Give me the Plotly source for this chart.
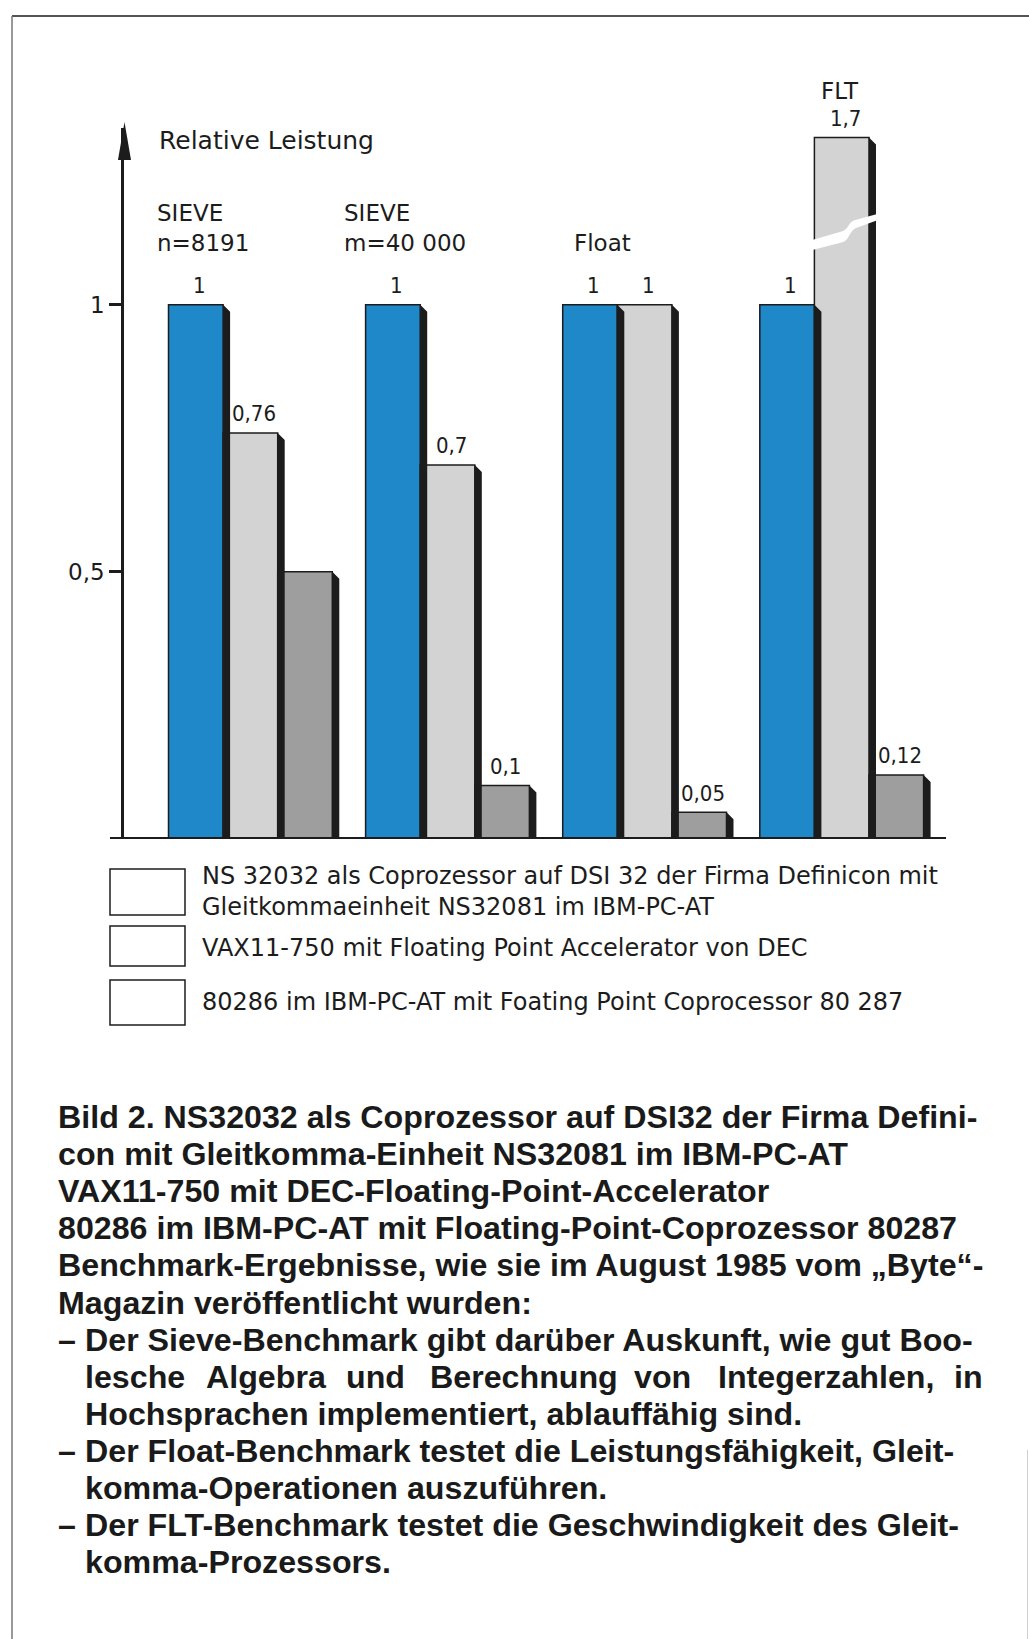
import plotly.graph_objects as go

# ---------------- data ----------------
benchmarks = ["SIEVE n=8191", "SIEVE m=40 000", "Float", "FLT"]
benchmark_headers = [["SIEVE", "n=8191"], ["SIEVE", "m=40 000"], ["Float"], ["FLT"]]

ns32032_dsi32 = [1, 1, 1, 1]
vax11_750 = [0.76, 0.7, 1, 1.7]
i80286_ibm_at = [0.5, 0.1, 0.05, 0.12]

show_label_ns = [True, True, True, True]
show_label_vax = [True, True, True, True]
show_label_286 = [False, True, True, True]

y_tickvals = [0.5, 1]
y_ticktext = ["0,5", "1"]
y_title = "Relative Leistung"

legend_texts = [
    ["NS 32032 als Coprozessor auf DSI 32 der Firma Definicon mit",
     "Gleitkommaeinheit NS32081 im IBM-PC-AT"],
    ["VAX11-750 mit Floating Point Accelerator von DEC"],
    ["80286 im IBM-PC-AT mit Foating Point Coprocessor 80 287"],
]

caption_lines = [
    "Bild 2. NS32032 als Coprozessor auf DSI32 der Firma Defini-",
    "con mit Gleitkomma-Einheit NS32081 im IBM-PC-AT",
    "VAX11-750 mit DEC-Floating-Point-Accelerator",
    "80286 im IBM-PC-AT mit Floating-Point-Coprozessor 80287",
    "Benchmark-Ergebnisse, wie sie im August 1985 vom \u201eByte\u201c-",
    "Magazin ver\u00f6ffentlicht wurden:",
]
bullet_lines = [
    ("\u2013", "Der Sieve-Benchmark gibt dar\u00fcber Auskunft, wie gut Boo-"),
    ("", "JUSTIFY"),
    ("", "Hochsprachen implementiert, ablauff\u00e4hig sind."),
    ("\u2013", "Der Float-Benchmark testet die Leistungsf\u00e4higkeit, Gleit-"),
    ("", "komma-Operationen auszuf\u00fchren."),
    ("\u2013", "Der FLT-Benchmark testet die Geschwindigkeit des Gleit-"),
    ("", "komma-Prozessors."),
]
justified_words = ["lesche", "Algebra", "und", "Berechnung", "von", "Integerzahlen,", "in"]

BREAK_TOP = 1.313   # displayed height of the broken (off-scale) bar

# ---------------- geometry / style ----------------
W, H = 1029, 1639
ML, MR, MT, MB = 124, 83, 128, 800
PW, PH = W - ML - MR, H - MT - MB
X_RANGE = [-0.6418, 3.5287]
Y_RANGE = [0, PH / 534.3]

BLUE = "#1f88c9"
LGRAY = "#d3d3d3"
DGRAY = "#9e9e9e"
INK = "#1c1c1c"
TECH_FONT = "DejaVu Sans, sans-serif"
TECH_NARROW = "DejaVu Sans Condensed, DejaVu Sans, sans-serif"
CAP_FONT = "Liberation Sans, Arial, sans-serif"

BW = 0.277
OFFSETS = [-0.416, -0.139, 0.138]
SH_X = 7 / (PW / (X_RANGE[1] - X_RANGE[0]))
SH_Y = 7 / 534.3


def px_x(xd):
    return ML + (xd - X_RANGE[0]) / (X_RANGE[1] - X_RANGE[0]) * PW


def px_y(yd):
    return MT + PH - (yd - Y_RANGE[0]) / (Y_RANGE[1] - Y_RANGE[0]) * PH


def pap_x(px):
    return (px - ML) / PW


def pap_y(py):
    return (MT + PH - py) / PH


def fmt(v):
    return f"{v:g}".replace(".", ",")


series = [
    ("NS 32032 / DSI32", ns32032_dsi32, show_label_ns, BLUE, OFFSETS[0]),
    ("VAX11-750", vax11_750, show_label_vax, LGRAY, OFFSETS[1]),
    ("80286 / 80287", i80286_ibm_at, show_label_286, DGRAY, OFFSETS[2]),
]

xs = list(range(len(benchmarks)))
fig = go.Figure()
annotations = []
shapes = []

for name, vals, shows, color, off in series:
    shown = [min(v, BREAK_TOP) for v in vals]
    # 3D shadow on the right side
    sx, sy = [], []
    for x, t in zip(xs, shown):
        xr = x + off + BW
        sx += [xr, xr + SH_X, xr + SH_X, xr, xr, None]
        sy += [t, t - SH_Y, 0, 0, t, None]
    fig.add_trace(go.Scatter(x=sx, y=sy, mode="lines", fill="toself",
                             fillcolor=INK, line=dict(width=0, color=INK),
                             hoverinfo="skip", showlegend=False))
    fig.add_trace(go.Bar(x=xs, y=shown, offset=off, width=BW, name=name,
                         marker=dict(color=color, line=dict(color=INK, width=1.5)),
                         showlegend=False, hovertext=[fmt(v) for v in vals]))
    for x, v, t, s in zip(xs, vals, shown, shows):
        if s:
            annotations.append(dict(x=x + off + BW / 2 + 0.018, y=t, xref="x", yref="y",
                                    text=fmt(v), showarrow=False, yshift=19,
                                    yanchor="middle", xanchor="center",
                                    font=dict(family=TECH_NARROW, size=22, color=INK)))

# axis break on the off-scale bar(s)
for x, v in zip(xs, vax11_750):
    if v > BREAK_TOP:
        xl = px_x(x + OFFSETS[1])
        xr = px_x(x + OFFSETS[1] + BW) + 8
        yc = px_y(1.145)
        p = "M {:.5f},{:.5f} ".format(pap_x(xl - 3), pap_y(yc + 13))
        p += "L {:.5f},{:.5f} ".format(pap_x(xl + 28), pap_y(yc + 4))
        p += "C {:.5f},{:.5f} {:.5f},{:.5f} {:.5f},{:.5f} ".format(
            pap_x(xl + 34), pap_y(yc + 2), pap_x(xl + 34), pap_y(yc - 5), pap_x(xl + 40), pap_y(yc - 7))
        p += "L {:.5f},{:.5f} ".format(pap_x(xr + 3), pap_y(yc - 14))
        p += "L {:.5f},{:.5f} ".format(pap_x(xr + 3), pap_y(yc - 8))
        p += "L {:.5f},{:.5f} ".format(pap_x(xl + 41), pap_y(yc + 1))
        p += "C {:.5f},{:.5f} {:.5f},{:.5f} {:.5f},{:.5f} ".format(
            pap_x(xl + 35), pap_y(yc + 4), pap_x(xl + 35), pap_y(yc + 13), pap_x(xl + 28), pap_y(yc + 15))
        p += "L {:.5f},{:.5f} Z".format(pap_x(xl - 3), pap_y(yc + 23))
        shapes.append(dict(type="path", path=p, xref="paper", yref="paper",
                           fillcolor="white", line=dict(width=0), layer="above"))

# baseline
shapes.append(dict(type="line", xref="paper", yref="y", x0=pap_x(110), x1=pap_x(946),
                   y0=0, y1=0, line=dict(color=INK, width=4)))
# arrow head of y axis
ax = ML + 0.5
shapes.append(dict(type="path", xref="paper", yref="paper",
                   path="M {:.5f},{:.5f} L {:.5f},{:.5f} L {:.5f},{:.5f} Z".format(
                       pap_x(ax), pap_y(122), pap_x(ax - 6.5), pap_y(160), pap_x(ax + 6.5), pap_y(160)),
                   fillcolor=INK, line=dict(width=0)))
# page frame (top and left edge, faint right edge at the bottom)
shapes.append(dict(type="line", xref="paper", yref="paper", x0=pap_x(12), x1=pap_x(1029),
                   y0=pap_y(16), y1=pap_y(16), line=dict(color="#555", width=2)))
shapes.append(dict(type="line", xref="paper", yref="paper", x0=pap_x(12), x1=pap_x(12),
                   y0=pap_y(16), y1=pap_y(1639), line=dict(color="#777", width=1.5)))
shapes.append(dict(type="line", xref="paper", yref="paper", x0=pap_x(1027.5), x1=pap_x(1027.5),
                   y0=pap_y(1450), y1=pap_y(1639), line=dict(color="#cfcfcf", width=1)))

# y-axis title
annotations.append(dict(x=pap_x(157), y=pap_y(141), xref="paper", yref="paper",
                        text=y_title, showarrow=False, xanchor="left", yanchor="middle",
                        font=dict(family=TECH_FONT, size=25, color=INK)))

# benchmark headers
header_pos = [(155, [213, 243], "left"), (342, [213, 243], "left"),
              (572, [243], "left"), (840, [91], "center")]
for lines, (hx, hys, anc) in zip(benchmark_headers, header_pos):
    for ln, hy in zip(lines, hys):
        annotations.append(dict(x=pap_x(hx), y=pap_y(hy), xref="paper", yref="paper",
                                text=ln, showarrow=False, xanchor=anc, yanchor="middle",
                                font=dict(family=TECH_FONT, size=23, color=INK)))

# legend (empty key boxes, as in the original print)
box_y = [(869, 915), (926, 966), (980, 1025)]
text_y = [[876, 907], [948], [1002]]
for (y0, y1), lines, tys in zip(box_y, legend_texts, text_y):
    shapes.append(dict(type="rect", xref="paper", yref="paper",
                       x0=pap_x(110), x1=pap_x(185), y0=pap_y(y0), y1=pap_y(y1),
                       line=dict(color=INK, width=1.5), fillcolor="white"))
    for ln, ty in zip(lines, tys):
        annotations.append(dict(x=pap_x(200), y=pap_y(ty), xref="paper", yref="paper",
                                text=ln, showarrow=False, xanchor="left", yanchor="middle",
                                font=dict(family=TECH_FONT, size=24, color=INK)))

# caption
CAP_SIZE = 32.2
cap_y0, cap_dy = 1117, 37.1
row = 0
for ln in caption_lines:
    annotations.append(dict(x=pap_x(56), y=pap_y(cap_y0 + row * cap_dy), xref="paper", yref="paper",
                            text="<b>" + ln + "</b>", showarrow=False, xanchor="left", yanchor="middle",
                            font=dict(family=CAP_FONT, size=CAP_SIZE, color="#1a1a1a")))
    row += 1
word_x = [83, 204, 344, 428, 632, 716, 952]
for dash, ln in bullet_lines:
    yy = pap_y(cap_y0 + row * cap_dy)
    if dash:
        annotations.append(dict(x=pap_x(56), y=yy, xref="paper", yref="paper",
                                text="<b>" + dash + "</b>", showarrow=False, xanchor="left",
                                yanchor="middle", font=dict(family=CAP_FONT, size=CAP_SIZE, color="#1a1a1a")))
    if ln == "JUSTIFY":
        for wd, wx in zip(justified_words, word_x):
            annotations.append(dict(x=pap_x(wx), y=yy, xref="paper", yref="paper",
                                    text="<b>" + wd + "</b>", showarrow=False, xanchor="left",
                                    yanchor="middle", font=dict(family=CAP_FONT, size=CAP_SIZE, color="#1a1a1a")))
    else:
        annotations.append(dict(x=pap_x(83), y=yy, xref="paper", yref="paper",
                                text="<b>" + ln + "</b>", showarrow=False, xanchor="left",
                                yanchor="middle", font=dict(family=CAP_FONT, size=CAP_SIZE, color="#1a1a1a")))
    row += 1

fig.update_layout(
    width=W, height=H,
    margin=dict(l=ML, r=MR, t=MT, b=MB),
    paper_bgcolor="white", plot_bgcolor="white",
    barmode="overlay",
    showlegend=False,
    xaxis=dict(visible=False, range=X_RANGE, fixedrange=True),
    yaxis=dict(range=Y_RANGE, showgrid=False, zeroline=False, showline=True,
               linecolor=INK, linewidth=2.5, ticks="outside", ticklen=12, tickwidth=2.5,
               tickcolor=INK, tickvals=y_tickvals, ticktext=y_ticktext,
               tickfont=dict(family=TECH_FONT, size=23, color=INK)),
    shapes=shapes,
    annotations=annotations,
)

fig.write_html("out.html",
               config={"displayModeBar": False},
               post_script="document.body.style.margin='0';document.body.style.padding='0';"
                           "document.body.style.overflow='hidden';")
